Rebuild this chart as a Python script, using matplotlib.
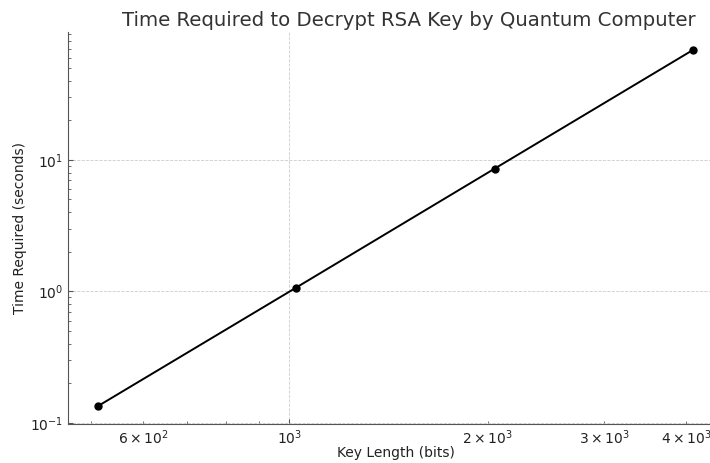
import matplotlib
matplotlib.use('Agg')
import matplotlib.pyplot as plt

# key lengths (bits) and time needed (seconds)
key_lengths = [512, 1024, 2048, 4096]
time_required = [0.134, 1.07, 8.59, 68.7]

fig = plt.figure(figsize=(7.10, 4.63), dpi=100)
ax = fig.add_axes([0.0958, 0.0842, 0.9225, 0.8467])

ax.plot(key_lengths, time_required, marker='o', color='black', markersize=5, linewidth=1.4)
ax.set_xscale('log')
ax.set_yscale('log')

ax.set_title('Time Required to Decrypt RSA Key by Quantum Computer', fontsize=14.2,
             color='#333333', pad=4, x=0.521)
ax.set_xlabel('Key Length (bits)', fontsize=10, color='#222222', labelpad=-1)
ax.set_ylabel('Time Required (seconds)', fontsize=10, color='#222222', labelpad=2)

ax.grid(True, which='major', linestyle='--', linewidth=0.6, color='#cccccc')
for side in ['top', 'right']:
    ax.spines[side].set_visible(False)
for side in ['left', 'bottom']:
    ax.spines[side].set_color('#555555')
ax.tick_params(which='both', direction='in', colors='#555555', labelcolor='#222222',
               labelsize=10, pad=3.5)
ax.tick_params(which='major', length=3.5)
ax.tick_params(which='minor', length=2)

fig.savefig('out.png', dpi=100)
